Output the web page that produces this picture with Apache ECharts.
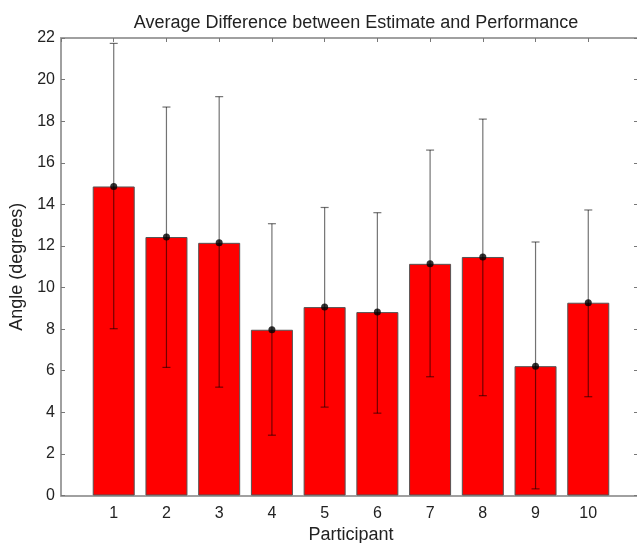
<!DOCTYPE html>
<html>
<head>
<meta charset="utf-8">
<script src="https://cdn.jsdelivr.net/npm/echarts@6/dist/echarts.min.js"></script>
<style>
  html, body { margin: 0; padding: 0; background: #fff; }
  #chart { width: 637px; height: 543px; }
</style>
</head>
<body>
<div id="chart"></div>
<script>
// Participants and mean angle difference (degrees), with standard deviation
const participants = [1, 2, 3, 4, 5, 6, 7, 8, 9, 10];
const meanAngle = [14.86, 12.43, 12.15, 7.97, 9.06, 8.82, 11.14, 11.47, 6.22, 9.27];
const errLow = [8.02, 6.16, 5.21, 2.90, 4.25, 3.96, 5.71, 4.80, 0.32, 4.75];
const errHigh = [21.74, 18.68, 19.18, 13.07, 13.85, 13.60, 16.61, 18.10, 12.19, 13.73];
const yTicks = [0, 2, 4, 6, 8, 10, 12, 14, 16, 18, 20, 22];

const font = 'Liberation Sans, Arial, sans-serif';
const axisGrey = '#a0a0a0';

const barData = participants.map((p, i) => [p, meanAngle[i]]);
const errData = participants.map((p, i) => [p, errLow[i], errHigh[i]]);

const myChart = echarts.init(document.getElementById('chart'), null, { renderer: 'canvas' });

const option = {
  animation: false,
  backgroundColor: '#fff',
  title: {
    text: 'Average Difference between Estimate and Performance',
    left: 351,
    top: 9,
    textAlign: 'center',
    textStyle: { fontFamily: font, fontSize: 18, fontWeight: 'normal', color: '#222' }
  },
  grid: { left: 61, top: 38, width: 580, height: 457.5, containLabel: false, outerBoundsMode: 'none' },
  xAxis: [
    {
      type: 'value',
      min: 0,
      max: 11,
      interval: 1,
      name: 'Participant',
      nameLocation: 'middle',
      nameGap: 27,
      nameTextStyle: { fontFamily: font, fontSize: 18, color: '#222' },
      axisLine: { onZero: false, lineStyle: { color: axisGrey, width: 2 } },
      axisTick: { show: false },
      axisLabel: {
        margin: 10,
        fontFamily: font,
        fontSize: 16,
        color: '#222',
        formatter: v => (v >= 1 && v <= 10 ? String(v) : '')
      },
      splitLine: { show: false }
    },
    {
      type: 'value',
      position: 'top',
      min: 0,
      max: 11,
      interval: 1,
      axisLine: { onZero: false, lineStyle: { color: axisGrey, width: 2 } },
      axisTick: { show: true, inside: true, length: 4, lineStyle: { color: '#777' } },
      axisLabel: { show: false },
      splitLine: { show: false }
    }
  ],
  yAxis: [
    {
      type: 'value',
      min: 0,
      max: 22,
      interval: 2,
      name: 'Angle (degrees)',
      nameLocation: 'middle',
      nameGap: 33,
      nameTextStyle: { fontFamily: font, fontSize: 18, color: '#222' },
      axisLine: { show: true, onZero: false, lineStyle: { color: axisGrey, width: 2 } },
      axisTick: { show: true, inside: true, length: 4, lineStyle: { color: '#777' } },
      axisLabel: {
        margin: 6,
        fontFamily: font,
        fontSize: 16,
        color: '#222',
        formatter: v => (yTicks.indexOf(v) >= 0 ? String(v) : '')
      },
      splitLine: { show: false }
    },
    {
      type: 'value',
      position: 'right',
      min: 0,
      max: 22,
      interval: 2,
      axisLine: { show: true, onZero: false, lineStyle: { color: axisGrey, width: 2 } },
      axisTick: { show: true, inside: true, length: 7, lineStyle: { color: '#777' } },
      axisLabel: { show: false },
      splitLine: { show: false }
    }
  ],
  series: [
    {
      name: 'Mean',
      type: 'bar',
      data: barData,
      barWidth: 42,
      itemStyle: { color: '#ff0000', borderColor: '#555', borderWidth: 1 },
      z: 2
    },
    {
      name: 'SD',
      type: 'custom',
      data: errData,
      z: 3,
      renderItem: function (params, api) {
        const x = api.value(0);
        const lo = api.coord([x, api.value(1)]);
        const hi = api.coord([x, api.value(2)]);
        const cap = 4;
        const style = { stroke: 'rgba(0,0,0,0.55)', lineWidth: 1.2 };
        return {
          type: 'group',
          children: [
            { type: 'line', shape: { x1: hi[0], y1: hi[1], x2: lo[0], y2: lo[1] }, style: style },
            { type: 'line', shape: { x1: hi[0] - cap, y1: hi[1], x2: hi[0] + cap, y2: hi[1] }, style: style },
            { type: 'line', shape: { x1: lo[0] - cap, y1: lo[1], x2: lo[0] + cap, y2: lo[1] }, style: style }
          ]
        };
      }
    },
    {
      name: 'Point',
      type: 'scatter',
      data: barData,
      symbol: 'circle',
      symbolSize: 7,
      itemStyle: { color: '#000' },
      z: 4
    }
  ]
};

myChart.setOption(option);
</script>
</body>
</html>
